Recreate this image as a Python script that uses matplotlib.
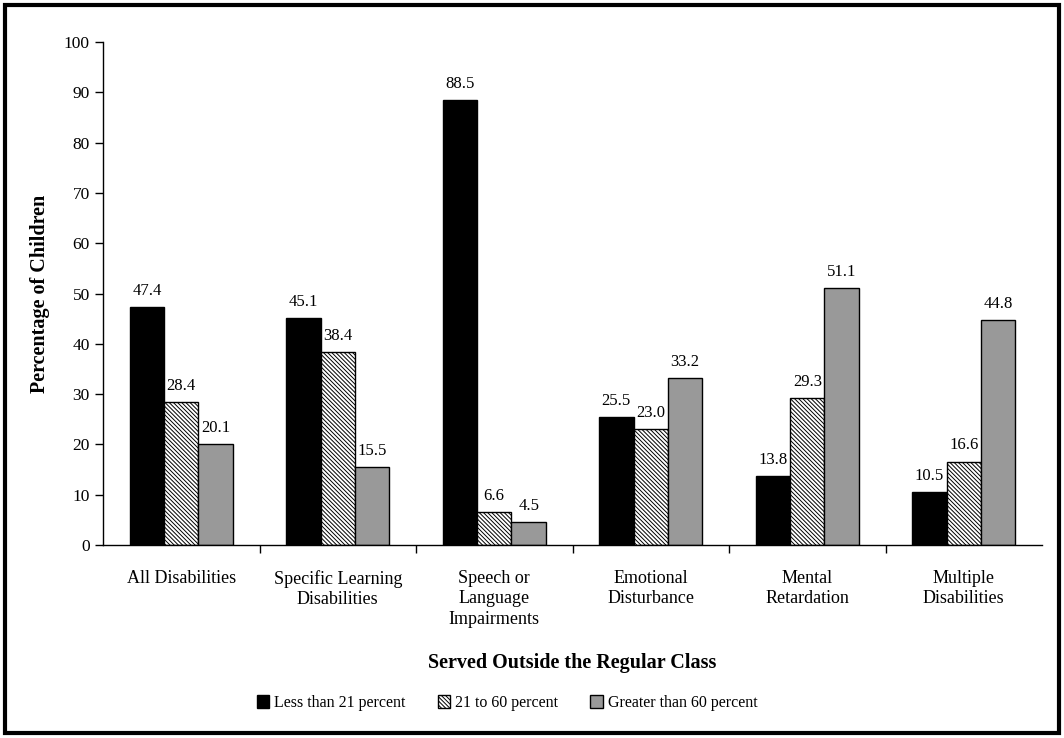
import matplotlib
matplotlib.use("Agg")
import matplotlib.pyplot as plt
import numpy as np
from matplotlib.patches import Rectangle

categories = ["All Disabilities", "Specific Learning\nDisabilities", "Speech or\nLanguage\nImpairments",
              "Emotional\nDisturbance", "Mental\nRetardation", "Multiple\nDisabilities"]
series_names = ["Less than 21 percent", "21 to 60 percent", "Greater than 60 percent"]
less21 = [47.4, 45.1, 88.5, 25.5, 13.8, 10.5]
mid = [28.4, 38.4, 6.6, 23.0, 29.3, 16.6]
gt60 = [20.1, 15.5, 4.5, 33.2, 51.1, 44.8]

plt.rcParams['font.family'] = ['Liberation Serif', 'DejaVu Serif']
plt.rcParams['hatch.linewidth'] = 0.7

fig = plt.figure(figsize=(10.64, 7.38), dpi=100)
ax = fig.add_axes([103/1064, (738-545)/738, (1042-103)/1064, (545-42)/738])

x = np.arange(len(categories))
w = 0.22
styles = [dict(color='black', edgecolor='black'),
          dict(color='white', edgecolor='black', hatch='\\' * 8),
          dict(color='#999999', edgecolor='black')]
handles = []
for i, (vals, st) in enumerate(zip([less21, mid, gt60], styles)):
    bars = ax.bar(x + (i - 1) * w, vals, w, linewidth=1.0, label=series_names[i], **st)
    handles.append(bars)
    for xi, v in zip(x + (i - 1) * w, vals):
        ax.text(xi, v + 1.6, f"{v:.1f}", ha='center', va='bottom', fontsize=12)

ax.set_xlim(-0.5, len(categories) - 0.5)
ax.set_ylim(0, 100)
ax.set_yticks(np.arange(0, 101, 10))
ax.tick_params(axis='y', labelsize=12.5, direction='out', length=6, width=1)
ax.set_xticks(x)
ax.set_xticklabels(categories, fontsize=13, linespacing=1.25)
ax.set_xticks(np.arange(0.5, len(categories) - 0.5, 1), minor=True)
ax.tick_params(axis='x', which='major', length=0, pad=18)
ax.tick_params(axis='x', which='minor', length=6, width=1, direction='out')
for s in ['top', 'right']:
    ax.spines[s].set_visible(False)
ax.spines['left'].set_linewidth(1)
ax.spines['bottom'].set_linewidth(1)

ax.set_ylabel("Percentage of Children", fontsize=14.5, fontweight='bold', labelpad=10)
fig.text((103+1042)/2/1064, 1 - 663/738, "Served Outside the Regular Class", ha='center', va='center',
         fontsize=14.5, fontweight='bold')

leg = fig.legend(handles=handles, labels=series_names, loc='center', bbox_to_anchor=(507/1064, 1 - 703/738),
                 ncol=3, frameon=False, fontsize=11.5, handlelength=0.8, handleheight=0.8,
                 handletextpad=0.3, columnspacing=2.0)

fig.patches.append(Rectangle((5/1064, 5/738), 1054/1064, 728/738, transform=fig.transFigure,
                             fill=False, edgecolor='black', linewidth=3))

fig.savefig("out.png", dpi=100)
